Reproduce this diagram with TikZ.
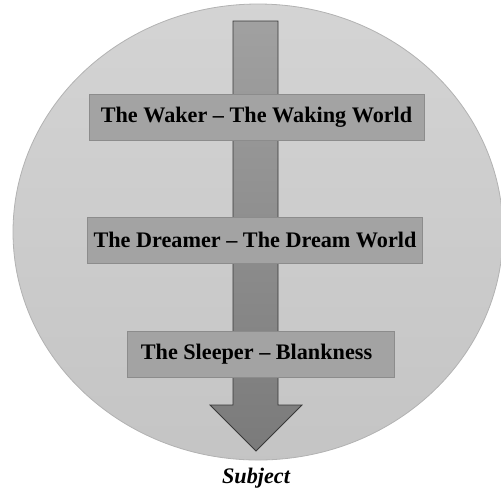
\documentclass[tikz,border=0pt]{standalone}
\usepackage{fontspec}
\setmainfont{Liberation Serif}
\usepackage{tikz}
\usetikzlibrary{positioning}

\begin{document}
\begin{tikzpicture}[x=0.5pt, y=-0.5pt,
  level/.style={draw=black!45, fill=black!36, minimum width=167.5pt, minimum height=23pt,
    inner sep=0pt, font=\fontsize{11.1}{13}\selectfont\bfseries}]
\useasboundingbox (0,0) rectangle (501,488);
\draw[draw=black!30, top color=black!17, bottom color=black!23] (258,232) ellipse [x radius=245, y radius=228];
\draw[draw=black!78, top color=black!37, bottom color=black!52]
  (233,21) -- (278,21) -- (278,405) -- (302,405) -- (256,451) -- (210,405) -- (233,405) -- cycle;
\node[level] (waker) at (256.5,117) {The Waker -- The Waking World};
\node[level] (dreamer) at (255,240) {The Dreamer -- The Dream World};
\node[level, minimum width=133.5pt] (sleeper) at (260.5,354.5) {\hspace*{-4pt}The Sleeper -- Blankness};
\node[font=\fontsize{11.1}{13}\selectfont\bfseries\itshape] (subject) at (256,478) {Subject};
\end{tikzpicture}
\end{document}
